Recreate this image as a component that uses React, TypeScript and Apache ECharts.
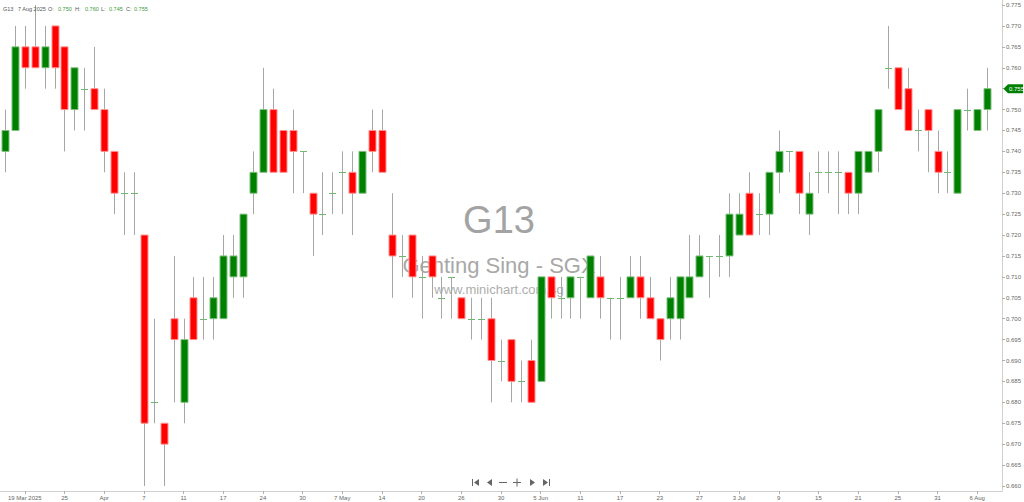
import React, { useEffect, useRef } from 'react';
import * as echarts from 'echarts';

const dates = [
  '2025-03-17', '2025-03-18', '2025-03-19', '2025-03-20', '2025-03-21', '2025-03-24', '2025-03-25', '2025-03-26', '2025-03-27', '2025-03-28',
  '2025-04-01', '2025-04-02', '2025-04-03', '2025-04-04', '2025-04-07', '2025-04-08', '2025-04-09', '2025-04-10', '2025-04-11', '2025-04-14',
  '2025-04-15', '2025-04-16', '2025-04-17', '2025-04-21', '2025-04-22', '2025-04-23', '2025-04-24', '2025-04-25', '2025-04-28', '2025-04-29',
  '2025-04-30', '2025-05-02', '2025-05-05', '2025-05-06', '2025-05-07', '2025-05-08', '2025-05-09', '2025-05-13', '2025-05-14', '2025-05-15',
  '2025-05-16', '2025-05-19', '2025-05-20', '2025-05-21', '2025-05-22', '2025-05-23', '2025-05-26', '2025-05-27', '2025-05-28', '2025-05-29',
  '2025-05-30', '2025-06-02', '2025-06-03', '2025-06-04', '2025-06-05', '2025-06-06', '2025-06-09', '2025-06-10', '2025-06-11', '2025-06-12',
  '2025-06-13', '2025-06-16', '2025-06-17', '2025-06-18', '2025-06-19', '2025-06-20', '2025-06-23', '2025-06-24', '2025-06-25', '2025-06-26',
  '2025-06-27', '2025-06-30', '2025-07-01', '2025-07-02', '2025-07-03', '2025-07-04', '2025-07-07', '2025-07-08', '2025-07-09', '2025-07-10',
  '2025-07-11', '2025-07-14', '2025-07-15', '2025-07-16', '2025-07-17', '2025-07-18', '2025-07-21', '2025-07-22', '2025-07-23', '2025-07-24',
  '2025-07-25', '2025-07-28', '2025-07-29', '2025-07-30', '2025-07-31', '2025-08-01', '2025-08-04', '2025-08-05', '2025-08-06', '2025-08-07',
];

const opens = [
  0.740, 0.745, 0.765, 0.765, 0.760, 0.770, 0.765, 0.750, 0.755, 0.755,
  0.750, 0.740, 0.730, 0.730, 0.720, 0.680, 0.675, 0.700, 0.680, 0.705,
  0.700, 0.700, 0.700, 0.710, 0.710, 0.730, 0.735, 0.750, 0.745, 0.745,
  0.740, 0.730, 0.725, 0.730, 0.735, 0.735, 0.730, 0.745, 0.745, 0.720,
  0.715, 0.720, 0.710, 0.715, 0.705, 0.710, 0.705, 0.700, 0.700, 0.700,
  0.690, 0.695, 0.685, 0.690, 0.685, 0.710, 0.705, 0.705, 0.710, 0.705,
  0.710, 0.705, 0.705, 0.705, 0.710, 0.705, 0.700, 0.700, 0.700, 0.705,
  0.710, 0.715, 0.715, 0.715, 0.720, 0.730, 0.725, 0.725, 0.735, 0.740,
  0.740, 0.725, 0.735, 0.735, 0.735, 0.735, 0.730, 0.735, 0.740, 0.760,
  0.760, 0.755, 0.745, 0.750, 0.740, 0.735, 0.730, 0.750, 0.745, 0.750,
];

const highs = [
  0.750, 0.770, 0.770, 0.775, 0.770, 0.770, 0.765, 0.760, 0.760, 0.765,
  0.755, 0.740, 0.735, 0.735, 0.720, 0.700, 0.675, 0.715, 0.700, 0.710,
  0.710, 0.710, 0.720, 0.720, 0.725, 0.740, 0.760, 0.755, 0.745, 0.750,
  0.740, 0.730, 0.735, 0.735, 0.740, 0.740, 0.740, 0.750, 0.750, 0.730,
  0.720, 0.720, 0.715, 0.715, 0.710, 0.710, 0.705, 0.705, 0.705, 0.705,
  0.695, 0.695, 0.690, 0.695, 0.710, 0.710, 0.710, 0.710, 0.710, 0.715,
  0.715, 0.705, 0.710, 0.715, 0.715, 0.710, 0.700, 0.710, 0.710, 0.720,
  0.720, 0.715, 0.720, 0.730, 0.730, 0.735, 0.730, 0.735, 0.745, 0.740,
  0.740, 0.735, 0.740, 0.740, 0.740, 0.735, 0.740, 0.740, 0.750, 0.770,
  0.760, 0.760, 0.750, 0.750, 0.745, 0.740, 0.750, 0.755, 0.750, 0.760,
];

const lows = [
  0.735, 0.745, 0.755, 0.760, 0.755, 0.755, 0.740, 0.745, 0.745, 0.750,
  0.735, 0.725, 0.720, 0.720, 0.660, 0.675, 0.660, 0.680, 0.675, 0.695,
  0.695, 0.695, 0.700, 0.705, 0.705, 0.725, 0.735, 0.735, 0.735, 0.730,
  0.730, 0.715, 0.720, 0.725, 0.725, 0.720, 0.730, 0.735, 0.735, 0.705,
  0.710, 0.705, 0.700, 0.705, 0.700, 0.700, 0.700, 0.695, 0.695, 0.680,
  0.685, 0.680, 0.680, 0.680, 0.685, 0.700, 0.700, 0.700, 0.700, 0.705,
  0.700, 0.695, 0.695, 0.705, 0.700, 0.700, 0.690, 0.695, 0.695, 0.705,
  0.710, 0.705, 0.710, 0.710, 0.720, 0.720, 0.720, 0.720, 0.730, 0.735,
  0.725, 0.720, 0.730, 0.730, 0.725, 0.725, 0.725, 0.735, 0.735, 0.755,
  0.750, 0.745, 0.740, 0.735, 0.730, 0.730, 0.730, 0.745, 0.745, 0.745,
];

const closes = [
  0.745, 0.765, 0.760, 0.760, 0.765, 0.760, 0.750, 0.760, 0.755, 0.750,
  0.740, 0.730, 0.730, 0.730, 0.675, 0.680, 0.670, 0.695, 0.695, 0.695,
  0.700, 0.705, 0.715, 0.715, 0.725, 0.735, 0.750, 0.735, 0.735, 0.740,
  0.740, 0.725, 0.725, 0.730, 0.735, 0.730, 0.740, 0.740, 0.735, 0.715,
  0.715, 0.710, 0.710, 0.710, 0.705, 0.710, 0.700, 0.700, 0.700, 0.690,
  0.690, 0.685, 0.685, 0.680, 0.710, 0.705, 0.705, 0.710, 0.710, 0.715,
  0.705, 0.705, 0.705, 0.710, 0.705, 0.700, 0.695, 0.705, 0.710, 0.710,
  0.715, 0.715, 0.715, 0.725, 0.725, 0.720, 0.725, 0.735, 0.740, 0.740,
  0.730, 0.730, 0.735, 0.735, 0.735, 0.730, 0.740, 0.740, 0.750, 0.760,
  0.750, 0.745, 0.745, 0.745, 0.735, 0.735, 0.750, 0.750, 0.750, 0.755,
];

const xTickLabels = [
  '19 Mar 2025', '25', 'Apr', '7', '11', '17', '24', '30', '7 May', '14', '20', '26', '30',
  '5 Jun', '11', '17', '23', '27', '3 Jul', '9', '15', '21', '25', '31', '6 Aug',
];

const yTickValues = [
  0.660, 0.665, 0.670, 0.675, 0.680, 0.685, 0.690, 0.695, 0.700, 0.705, 0.710, 0.715,
  0.720, 0.725, 0.730, 0.735, 0.740, 0.745, 0.750, 0.755, 0.760, 0.765, 0.770, 0.775,
];

const symbol = 'G13';
const companyName = 'Genting Sing - SGX';
const site = 'www.minichart.com.sg';
const headerDate = '7 Aug 2025';

const FONT = 'Liberation Sans, Arial, sans-serif';
const UP = '#008000';
const DOWN = '#ff0000';

export default function App() {
  const ref = useRef<HTMLDivElement>(null);

  useEffect(() => {
    const chart = echarts.init(ref.current as HTMLDivElement, null, { renderer: 'svg' });
    const data = dates.map((d, i) => [i, opens[i], closes[i], lows[i], highs[i]]);
    const showTick = (index: number) => index >= 2 && (index - 2) % 4 === 0 && index < dates.length;
    const last = dates.length - 1;
    const lastClose = closes[last];
    const labelValues = yTickValues.filter((v) => Math.abs(v - lastClose) > 1e-9);

    const option: any = {
      animation: false,
      backgroundColor: '#ffffff',
      grid: { left: 0, right: 21, top: 0, bottom: 11, containLabel: false },
      xAxis: {
        type: 'category',
        data: [...dates, ''],
        boundaryGap: true,
        axisLine: { show: true, lineStyle: { color: '#d0d0d0', width: 1 } },
        axisTick: { show: true, alignWithLabel: true, length: 3, interval: (i: number) => showTick(i), lineStyle: { color: '#b0b0b0' } },
        axisLabel: {
          show: true,
          interval: (i: number) => showTick(i),
          formatter: (_v: string, i: number) => (showTick(i) ? xTickLabels[(i - 2) / 4] : ''),
          fontSize: 6,
          color: '#666666',
          fontFamily: FONT,
          margin: 4,
        },
        splitLine: { show: false },
      },
      yAxis: {
        type: 'value',
        position: 'right',
        min: 0.6588,
        max: 0.7762,
        scale: true,
        axisLine: { show: true, lineStyle: { color: '#d0d0d0', width: 1 } },
        axisTick: { show: true, length: 3, customValues: yTickValues, lineStyle: { color: '#b0b0b0' } },
        axisLabel: {
          show: true,
          customValues: labelValues,
          formatter: (v: number) => v.toFixed(3),
          fontSize: 6,
          color: '#666666',
          fontFamily: FONT,
          margin: 4,
        },
        splitLine: { show: false },
      },
      series: [
        {
          type: 'custom',
          clip: true,
          z: 5,
          encode: { x: 0, y: [1, 2, 3, 4] },
          data,
          renderItem: (params: any, api: any) => {
            const idx = api.value(0);
            const o = api.value(1);
            const c = api.value(2);
            const l = api.value(3);
            const h = api.value(4);
            const pO = api.coord([idx, o]);
            const pC = api.coord([idx, c]);
            const pL = api.coord([idx, l]);
            const pH = api.coord([idx, h]);
            const band = api.size([1, 0])[0];
            const bw = Math.round(band * 0.7);
            const cx = Math.round(pO[0]) + 0.5;
            const children: any[] = [
              {
                type: 'line',
                shape: { x1: cx, y1: pH[1], x2: cx, y2: pL[1] },
                style: { stroke: '#a6a6a6', lineWidth: 1 },
              },
            ];
            if (o === c) {
              children.push({
                type: 'line',
                shape: { x1: cx - bw / 2, y1: Math.round(pO[1]) + 0.5, x2: cx + bw / 2, y2: Math.round(pO[1]) + 0.5 },
                style: { stroke: '#6fb86f', lineWidth: 1 },
              });
            } else {
              const up = c > o;
              const top = Math.min(pO[1], pC[1]);
              const hgt = Math.abs(pO[1] - pC[1]);
              children.push({
                type: 'rect',
                shape: { x: cx - bw / 2, y: top, width: bw, height: hgt },
                style: { fill: up ? UP : DOWN, stroke: up ? '#7fbf7f' : '#ff9090', lineWidth: 1 },
              });
            }
            return { type: 'group', children };
          },
        },
      ],
    };

    chart.setOption(option);

    const py = (chart.convertToPixel({ xAxisIndex: 0, yAxisIndex: 0 } as any, [last, lastClose]) as number[])[1];
    const lastO = opens[last].toFixed(3);
    const lastH = highs[last].toFixed(3);
    const lastL = lows[last].toFixed(3);
    const lastC = lastClose.toFixed(3);

    const hdr = (x: number, text: string, fill: string) => ({
      type: 'text',
      x,
      y: 8.5,
      z: 10,
      style: { text, fill, fontSize: 5.5, fontFamily: FONT, verticalAlign: 'middle', align: 'left' },
    });

    const navColor = '#666666';
    const ny = 482.5;

    const graphic: any[] = [
      // watermark
      { type: 'text', x: 499, y: 220, z: 0, style: { text: symbol, fill: '#a3a3a3', fontSize: 38, fontFamily: FONT, align: 'center', verticalAlign: 'middle' } },
      { type: 'text', x: 499, y: 265, z: 0, style: { text: companyName, fill: '#a8a8a8', fontSize: 22, fontFamily: FONT, align: 'center', verticalAlign: 'middle' } },
      { type: 'text', x: 499, y: 289, z: 0, style: { text: site, fill: '#adadad', fontSize: 13, fontFamily: FONT, align: 'center', verticalAlign: 'middle' } },
      // header
      hdr(3, symbol, '#555555'),
      hdr(18, headerDate, '#555555'),
      hdr(48, 'O:', '#555555'),
      hdr(58, lastO, '#3a9a3a'),
      hdr(75, 'H:', '#555555'),
      hdr(85, lastH, '#3a9a3a'),
      hdr(101, 'L:', '#555555'),
      hdr(109, lastL, '#3a9a3a'),
      hdr(126, 'C:', '#555555'),
      hdr(134, lastC, '#3a9a3a'),
      // nav buttons
      { type: 'rect', z: 10, shape: { x: 472, y: ny - 3.5, width: 1, height: 7 }, style: { fill: navColor } },
      { type: 'polygon', z: 10, shape: { points: [[474, ny], [479, ny - 3.5], [479, ny + 3.5]] }, style: { fill: navColor } },
      { type: 'polygon', z: 10, shape: { points: [[487, ny], [492, ny - 3.5], [492, ny + 3.5]] }, style: { fill: navColor } },
      { type: 'rect', z: 10, shape: { x: 499, y: ny - 0.5, width: 8, height: 1 }, style: { fill: navColor } },
      { type: 'rect', z: 10, shape: { x: 513, y: ny - 0.5, width: 8, height: 1 }, style: { fill: navColor } },
      { type: 'rect', z: 10, shape: { x: 516.5, y: ny - 4, width: 1, height: 8 }, style: { fill: navColor } },
      { type: 'polygon', z: 10, shape: { points: [[535, ny], [530, ny - 3.5], [530, ny + 3.5]] }, style: { fill: navColor } },
      { type: 'polygon', z: 10, shape: { points: [[548, ny], [543, ny - 3.5], [543, ny + 3.5]] }, style: { fill: navColor } },
      { type: 'rect', z: 10, shape: { x: 549, y: ny - 3.5, width: 1, height: 7 }, style: { fill: navColor } },
      // last price tag
      {
        type: 'polygon',
        z: 10,
        shape: { points: [[1003.5, py], [1008, py - 4.5], [1023, py - 4.5], [1023, py + 4.5], [1008, py + 4.5]] },
        style: { fill: UP },
      },
      { type: 'text', z: 11, x: 1009, y: py, style: { text: lastC, fill: '#ffffff', fontSize: 6, fontFamily: FONT, verticalAlign: 'middle', align: 'left' } },
    ];

    chart.setOption({ graphic });

    return () => chart.dispose();
  }, []);

  return (
    <div
      ref={ref}
      style={{ position: 'absolute', left: 0, top: 0, width: 1024, height: 502, background: '#ffffff' }}
    />
  );
}
